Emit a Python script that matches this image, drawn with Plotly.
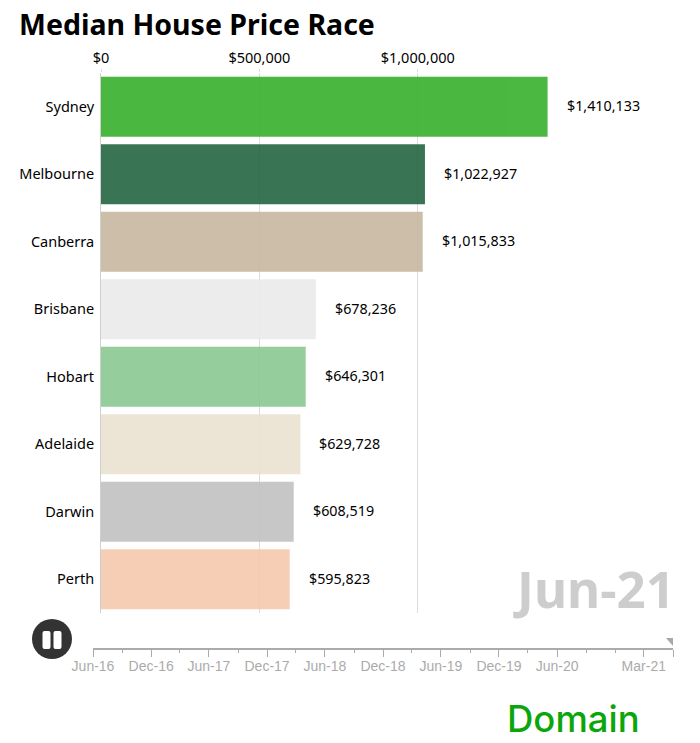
import plotly.graph_objects as go

W = 700
H = 743

cities = ['Sydney', 'Melbourne', 'Canberra', 'Brisbane', 'Hobart', 'Adelaide', 'Darwin', 'Perth']
prices = [1410133, 1022927, 1015833, 678236, 646301, 629728, 608519, 595823]
bar_colors = ['#37B02D', '#246643', '#C7B8A0', '#EBEBEB', '#8AC893', '#EBE3D1', '#C2C2C2', '#F6C8AD']
price_ticks = [0, 500000, 1000000]
price_labels = ['$0', '$500,000', '$1,000,000']

# timeline along the bottom, quarterly steps
timeline_major = ['2016-06-01', '2016-12-01', '2017-06-01', '2017-12-01', '2018-06-01', '2018-12-01',
                  '2019-06-01', '2019-12-01', '2020-06-01', '2021-03-01', '2021-06-01']
timeline_labels = ['Jun-16', 'Dec-16', 'Jun-17', 'Dec-17', 'Jun-18', 'Dec-18',
                   'Jun-19', 'Dec-19', 'Jun-20', 'Mar-21', '']
timeline_minor = ['2016-09-01', '2017-03-01', '2017-09-01', '2018-03-01', '2018-09-01', '2019-03-01',
                  '2019-09-01', '2020-03-01', '2020-09-01', '2020-12-01']
current_date = '2021-06-01'
current_label = 'Jun-21'

SANS = 'Noto Sans, sans-serif'
GRID = '#dcdcdc'
TIME_GREY = '#ababab'


def px(x):
    return x / W


def py(y):
    return 1 - y / H


def rounded_bar(x0, x1, y0, y1, r=2):
    a, b, c, d = px(x0), px(x1), py(y0), py(y1)
    rx, ry = r / W, r / H
    return (f'M {a + rx} {c} L {b - rx} {c} Q {b} {c} {b} {c - ry} L {b} {d + ry} Q {b} {d} {b - rx} {d} '
            f'L {a + rx} {d} Q {a} {d} {a} {d + ry} L {a} {c - ry} Q {a} {c} {a + rx} {c} Z')


fig = go.Figure()

fig.add_trace(go.Bar(
    x=prices, y=cities, orientation='h',
    marker=dict(color=bar_colors, line=dict(width=0)),
    opacity=0.9,
    hoverinfo='skip',
))

# invisible, only there so the timeline axis gets drawn
fig.add_trace(go.Scatter(
    x=[current_date], y=[0], xaxis='x2', yaxis='y2',
    mode='markers',
    marker=dict(size=1, opacity=0),
    hoverinfo='skip',
))

annotations = []
for city, price in zip(cities, prices):
    annotations.append(dict(
        x=price, y=city, xref='x', yref='y', text=f'${price:,}',
        showarrow=False, xanchor='left', xshift=17, yshift=1,
        font=dict(family=SANS, size=14.3, color='#000'),
    ))

annotations.append(dict(
    x=px(677), y=py(588), xref='paper', yref='paper', text=f'<b>{current_label}</b>',
    showarrow=False, xanchor='right', yanchor='middle',
    font=dict(family=SANS, size=51, color='#cdcdcd'),
))
annotations.append(dict(
    x=px(505), y=py(719), xref='paper', yref='paper', text='Domain',
    showarrow=False, xanchor='left', yanchor='middle',
    font=dict(family='Inter, sans-serif', size=36.5, weight=500, color='#0aa60a'),
))

shapes = [
    dict(type='circle', xref='paper', yref='paper', x0=px(32), x1=px(72), y0=py(619), y1=py(659),
         fillcolor='#333333', line=dict(width=0)),
    dict(type='path', xref='paper', yref='paper', path=rounded_bar(42.5, 50.5, 631, 649),
         fillcolor='#ffffff', line=dict(width=0)),
    dict(type='path', xref='paper', yref='paper', path=rounded_bar(53.5, 61.5, 631, 649),
         fillcolor='#ffffff', line=dict(width=0)),
    # play head corner triangle, sized in px off the current date
    dict(type='path', xref='x2', yref='y2', xsizemode='pixel', ysizemode='pixel',
         xanchor=current_date, yanchor=0, path='M -7 10 L 1 10 L 1 1 Z',
         fillcolor='#a8a8a8', line=dict(width=0)),
]

fig.update_layout(
    width=W, height=H, autosize=False,
    margin=dict(l=0, r=0, t=0, b=0),
    paper_bgcolor='white', plot_bgcolor='white',
    showlegend=False,
    title=dict(text='<b>Median House Price Race</b>', x=px(19), xanchor='left', xref='paper',
               y=py(25), yanchor='middle', yref='paper',
               font=dict(family=SANS, size=28.5, color='#000')),
    annotations=annotations,
    shapes=shapes,
    xaxis=dict(
        domain=[px(101), 1], range=[0, 1891400], side='top', automargin=False,
        tickmode='array', tickvals=price_ticks, ticktext=price_labels,
        showgrid=True, gridcolor=GRID, gridwidth=1,
        ticks='outside', ticklen=3, tickcolor=GRID,
        zeroline=False, showline=False,
        tickfont=dict(family=SANS, size=14.5, color='#000'),
    ),
    yaxis=dict(
        domain=[py(613), py(73)], autorange='reversed', automargin=False,
        categoryorder='array', categoryarray=cities,
        showgrid=False, zeroline=False,
        showline=True, linecolor='#cfcfcf', linewidth=1,
        ticks='', ticklabelstandoff=3,
        tickfont=dict(family=SANS, size=14.5, color='#000'),
    ),
    xaxis2=dict(
        domain=[px(93), px(673)], range=[timeline_major[0], timeline_major[-1]],
        type='date', anchor='y2', automargin=False,
        tickmode='array', tickvals=timeline_major, ticktext=timeline_labels,
        showgrid=False, zeroline=False,
        showline=True, linecolor=TIME_GREY, linewidth=1.5,
        ticks='outside', ticklen=7, tickcolor=TIME_GREY, tickwidth=1,
        ticklabelstandoff=-3,
        minor=dict(tickmode='array', tickvals=timeline_minor, ticks='outside', ticklen=3,
                   tickcolor=TIME_GREY, tickwidth=1),
        tickfont=dict(family='Liberation Sans, sans-serif', size=14, color=TIME_GREY),
    ),
    yaxis2=dict(
        domain=[py(648), py(630)], range=[0, 1], anchor='x2', automargin=False,
        visible=False,
    ),
    bargap=0.114,
)

# page default margin would push the chart 8px in
fig.write_html('out.html', config=dict(displayModeBar=False),
               post_script="document.body.style.margin='0';")
